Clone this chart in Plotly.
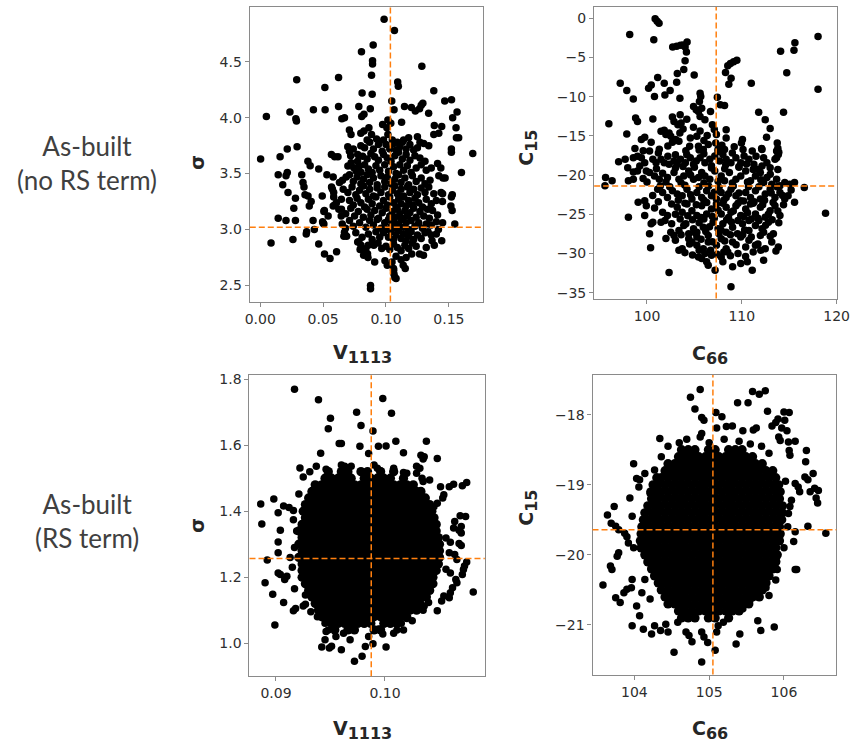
import plotly.graph_objects as go

# ---------------- data ----------------
# Panel A: As-built (no RS term): V1113 (x) vs sigma (y)
noRS_v1113_sigma = [
(0.0985,4.88),(0.1067,4.78),(0.0805,4.59),(0.0898,4.65),(0.0893,4.51),(0.0893,4.48),(0.0885,4.38),(0.1285,4.46),(0.029,4.34),(0.0514,4.27),
(0.0623,4.36),(0.1093,4.32),(0.1098,4.28),(0.081,4.22),(0.089,4.21),(0.138,4.24),(0.1046,4.15),(0.1467,4.15),(0.1521,4.16),
(0.0049,4.01),(0.0236,4.05),(0.0423,4.07),(0.0516,4.07),(0.0623,4.10),(0.0784,4.10),(0.0875,4.08),(0.1064,4.07),(0.1147,4.10),(0.1202,4.09),
(0.1233,4.06),(0.1267,4.08),(0.128,4.11),(0.1293,4.13),(0.1339,4.04),(0.1565,4.05),(0.153,4.0),(0.0283,3.99),(0.0288,3.97),(0.0649,3.99),
(0.067,4.0),(0.0807,4.01),(0.0825,4.03),(0.1015,3.98),(0.1038,3.95),(0.1007,3.91),(0.1124,3.96),(0.0973,3.94),(0.1384,3.93),(0.1443,3.92),
(0.1557,3.91),(0.1578,3.82),(0.169,3.68),
(0.0003,3.63),(0.0086,2.88),(0.0143,3.49),(0.0158,3.65),(0.0179,3.40),(0.0205,3.48),(0.0215,3.51),(0.0215,3.72),(0.0221,3.33),(0.0143,3.10),
(0.0205,3.08),(0.028,3.08),(0.026,2.91),(0.0293,3.74),(0.028,3.28),(0.0267,3.19),(0.033,3.49),(0.034,3.42),(0.0348,3.38),(0.0356,3.31),
(0.038,3.30),(0.0369,2.98),(0.0366,2.96),(0.0379,3.61),(0.0397,3.57),(0.0405,3.25),(0.039,3.21),(0.042,3.08),(0.043,3.0),(0.0465,2.87),
(0.0465,3.54),(0.0506,3.16),(0.0496,3.07),(0.0506,3.05),(0.0493,3.30),(0.0511,2.78),(0.0555,2.74),(0.053,3.49),(0.058,3.47),(0.0566,3.67),
(0.0592,3.65),(0.0618,3.65),(0.0574,3.36),(0.0584,3.33),(0.0607,2.80),(0.0592,3.22),(0.0584,3.29),(0.063,3.42),(0.0654,3.44),(0.0683,3.47),
(0.0646,3.18),(0.0644,3.12),(0.0665,2.94),(0.0652,3.05),(0.0678,3.01),(0.0709,3.70),(0.0719,3.66),(0.0696,3.74),
(0.0709,3.89),(0.0722,3.85),(0.080,3.86),(0.0825,3.88),(0.0864,3.91),(0.0885,3.85),(0.085,3.80),(0.0925,3.81),(0.098,3.80),(0.1015,3.85),
(0.105,3.80),(0.109,3.78),(0.114,3.80),(0.118,3.82),(0.125,3.83),(0.138,3.85),(0.142,3.86),(0.156,3.82),
(0.074,3.72),(0.080,3.75),(0.083,3.73),(0.087,3.78),(0.090,3.72),(0.094,3.76),(0.097,3.70),(0.100,3.76),(0.103,3.72),(0.106,3.77),
(0.108,3.71),(0.111,3.74),(0.113,3.78),(0.116,3.72),(0.119,3.76),(0.122,3.71),(0.125,3.73),(0.127,3.78),(0.130,3.77),(0.134,3.75),
(0.152,3.72),(0.152,3.69),
(0.0774,3.61),(0.0814,3.656),(0.0775,3.671),(0.085,3.63),(0.088,3.68),(0.091,3.65),(0.094,3.62),(0.098,3.67),(0.101,3.64),(0.104,3.61),
(0.107,3.66),(0.110,3.69),(0.113,3.63),(0.116,3.67),(0.119,3.62),(0.123,3.66),(0.127,3.64),(0.131,3.61),(0.141,3.59),
(0.0697,3.568),(0.0723,3.597),(0.0744,3.553),(0.0762,3.523),(0.0788,3.568),(0.0801,3.512),(0.083,3.58),(0.086,3.54),(0.089,3.51),(0.092,3.57),
(0.095,3.53),(0.099,3.58),(0.102,3.52),(0.106,3.56),(0.108,3.50),(0.111,3.58),(0.114,3.53),(0.117,3.57),(0.120,3.51),(0.124,3.55),
(0.128,3.58),(0.132,3.53),(0.136,3.55),(0.1436,3.55),(0.160,3.51),
(0.071,3.49),(0.074,3.43),(0.077,3.47),(0.080,3.41),(0.082,3.45),(0.085,3.49),(0.087,3.42),(0.090,3.46),(0.093,3.40),(0.096,3.48),
(0.099,3.43),(0.101,3.47),(0.104,3.41),(0.107,3.45),(0.110,3.49),(0.112,3.42),(0.115,3.46),(0.118,3.40),(0.121,3.48),(0.124,3.43),
(0.128,3.46),(0.131,3.41),(0.135,3.44),(0.142,3.48),(0.1453,3.46),(0.147,3.46),
(0.0567,3.38),(0.066,3.36),(0.0697,3.33),(0.073,3.38),(0.076,3.31),(0.079,3.35),(0.082,3.39),(0.084,3.32),(0.087,3.36),(0.090,3.30),
(0.093,3.37),(0.096,3.33),(0.099,3.38),(0.102,3.31),(0.105,3.35),(0.107,3.39),(0.109,3.32),(0.112,3.36),(0.114,3.30),(0.117,3.38),
(0.119,3.33),(0.122,3.36),(0.125,3.31),(0.128,3.37),(0.131,3.33),(0.134,3.38),(0.138,3.32),(0.1438,3.33),(0.145,3.32),(0.1527,3.31),
(0.0645,3.27),(0.071,3.26),(0.0606,3.24),(0.058,3.21),(0.074,3.22),(0.077,3.28),(0.080,3.24),(0.083,3.20),(0.086,3.27),(0.089,3.23),
(0.092,3.29),(0.095,3.21),(0.098,3.26),(0.101,3.22),(0.103,3.29),(0.106,3.24),(0.108,3.20),(0.110,3.27),(0.112,3.23),(0.114,3.29),
(0.116,3.21),(0.118,3.26),(0.121,3.22),(0.123,3.28),(0.126,3.24),(0.129,3.20),(0.132,3.27),(0.136,3.23),(0.140,3.26),(0.1449,3.25),
(0.152,3.29),(0.1516,3.21),
(0.0625,3.18),(0.054,3.12),(0.051,3.17),(0.068,3.14),(0.072,3.19),(0.075,3.12),(0.078,3.16),(0.082,3.11),(0.085,3.18),(0.088,3.13),
(0.091,3.17),(0.094,3.10),(0.097,3.15),(0.100,3.19),(0.103,3.12),(0.105,3.16),(0.107,3.11),(0.109,3.18),(0.111,3.14),(0.113,3.10),
(0.115,3.17),(0.117,3.12),(0.119,3.15),(0.122,3.19),(0.124,3.11),(0.127,3.16),(0.130,3.12),(0.133,3.18),(0.137,3.17),(0.1345,3.10),
(0.141,3.13),(0.1526,3.17),
(0.050,3.056),(0.071,3.08),(0.074,3.03),(0.079,3.06),(0.084,3.02),(0.087,3.08),(0.090,3.04),(0.093,3.09),(0.096,3.01),(0.099,3.06),
(0.1002,3.0),(0.102,3.09),(0.104,3.03),(0.106,3.07),(0.108,3.01),(0.110,3.05),(0.112,3.09),(0.114,3.02),(0.116,3.06),(0.118,3.00),
(0.120,3.08),(0.123,3.03),(0.126,3.06),(0.129,3.01),(0.132,3.05),(0.136,3.04),(0.140,3.07),(0.1417,3.0),(0.145,3.06),(0.1547,3.05),
(0.067,2.976),(0.0687,2.94),(0.0775,2.887),(0.076,2.97),(0.081,2.93),(0.086,2.96),(0.089,2.91),(0.092,2.98),(0.095,2.93),(0.098,2.97),
(0.102,2.93),(0.104,2.98),(0.106,2.91),(0.108,2.95),(0.110,2.99),(0.112,2.92),(0.114,2.96),(0.116,2.90),(0.118,2.94),(0.120,2.98),
(0.122,2.91),(0.125,2.95),(0.128,2.92),(0.131,2.97),(0.1334,2.98),(0.136,2.95),(0.140,2.96),(0.1366,2.90),(0.1443,2.90),
(0.0801,2.858),(0.0784,2.89),(0.0827,2.80),(0.084,2.828),(0.0859,2.86),(0.0903,2.86),(0.0937,2.88),(0.0966,2.83),(0.100,2.85),(0.103,2.82),
(0.106,2.87),(0.109,2.84),(0.112,2.81),(0.115,2.86),(0.118,2.83),(0.121,2.88),(0.124,2.85),(0.132,2.84),(0.1384,2.86),(0.0794,2.82),
(0.0822,2.769),(0.0853,2.784),(0.0857,2.75),(0.091,2.71),(0.0992,2.72),(0.1048,2.71),(0.108,2.76),(0.112,2.73),(0.116,2.75),(0.1205,2.78),
(0.1267,2.78),(0.1298,2.77),
(0.101,2.68),(0.106,2.65),(0.1061,2.636),(0.1064,2.60),(0.107,2.57),(0.108,2.562),(0.1137,2.68),(0.1153,2.65),(0.0877,2.50),(0.0877,2.47),
]

# Panel B: As-built (no RS term): C66 (x) vs C15 (y)
noRS_c66_c15 = [
(100.86,-0.08),(101.07,-0.38),(101.27,-0.63),(98.18,-2.07),(100.72,-2.74),(118.04,-2.32),(102.71,-3.67),(103.13,-3.58),(103.54,-3.46),
(103.81,-3.41),(104.23,-3.04),(104.02,-3.67),(104.16,-4.30),(115.6,-3.12),(115.5,-4.09),(114.09,-4.22),
(104.02,-5.44),(103.88,-6.53),(103.2,-7.04),(103.13,-8.18),(104.98,-7.25),(109.48,-5.35),(109.14,-5.57),(108.8,-5.78),(108.52,-6.07),
(108.28,-6.91),(108.87,-7.67),(108.63,-8.43),(111.0,-8.31),(114.74,-6.96),(118.04,-9.06),(97.18,-8.31),(97.87,-9.23),(98.56,-10.29),
(100.17,-8.94),(100.45,-8.52),(101.13,-7.55),(101.82,-8.31),(100.79,-9.99),(101.89,-9.78),(102.44,-9.23),(103.47,-10.2),
(107.42,-10.08),(107.73,-11.05),(108.18,-11.13),(105.6,-9.57),(105.67,-9.99),(105.53,-10.63),(104.91,-11.26),(105.19,-11.68),(105.43,-11.89),
(105.77,-11.47),(105.6,-12.52),(106.11,-12.95),(106.7,-11.89),(111.78,-11.98),(112.47,-12.95),(112.99,-14.08),(112.61,-15.18),(113.74,-15.9),
(112.09,-16.61),(114.4,-11.98),
(95.98,-13.45),(98.8,-12.74),(99.0,-13.16),(100.62,-12.86),(97.87,-14.76),(99.41,-15.48),(99.76,-15.18),(98.73,-16.61),(100.44,-15.81),
(100.27,-16.95),(101.48,-14.42),(101.82,-14.29),(101.99,-14.84),(102.33,-14.63),(102.51,-15.05),
(102.68,-12.61),(102.85,-13.16),(103.26,-13.58),(103.6,-13.37),(103.81,-14.13),(103.47,-14.63),(103.02,-15.48),(103.37,-15.69),(102.68,-15.81),
(104.57,-15.27),(104.5,-16.32),(105.26,-15.06),(105.43,-16.32),(106.35,-14.97),(106.46,-16.11),(105.94,-16.74),(107.32,-14.84),(107.25,-15.9),
(107.49,-16.74),(108.35,-14.21),(108.35,-15.27),(108.18,-16.74),(110.07,-15.48),(109.96,-15.9),(110.13,-16.74),(111.1,-16.95),(112.13,-16.74),
(113.67,-16.95),(103.5,-12.3),(104.2,-12.9),(106.9,-13.6),(107.1,-14.2),(104.9,-13.9),(105.6,-14.4),(106.0,-15.6),(107.9,-16.2),(109.2,-16.4),
(104.1,-16.9),(102.2,-16.3),(101.3,-16.7),(99.6,-16.9),(113.8,-16.6),(113.9,-17.1),
(97.01,-18.3),(97.70,-18.0),(98.56,-17.79),(97.97,-19.06),(98.56,-19.61),(99.24,-18.85),(99.41,-17.79),(99.76,-18.42),(99.93,-19.48),(100.62,-18.0),
(100.96,-18.42),(101.48,-18.0),(101.82,-18.42),(102.33,-18.64),(102.85,-18.21),(103.19,-18.64),(103.54,-18.0),(104.05,-18.42),(104.57,-17.79),
(104.91,-18.64),(105.6,-17.79),(106.11,-18.42),(106.63,-18.0),(107.15,-17.58),(107.66,-18.21),(108.0,-17.37),(108.35,-18.0),(108.86,-18.42),
(109.38,-17.79),(109.89,-18.42),(110.24,-17.58),(110.75,-18.0),(111.27,-18.64),(111.61,-19.27),(112.13,-18.85),(112.65,-18.42),(112.99,-19.06),
(113.5,-18.0),(113.85,-17.37),(113.67,-17.79),
(95.63,-20.32),(95.57,-21.38),(96.32,-20.74),(98.04,-20.74),(98.56,-20.53),(99.59,-20.45),(100.27,-19.69),(100.79,-20.11),(101.3,-20.53),
(101.65,-19.77),(102.16,-20.32),(102.85,-19.69),(103.37,-20.53),(103.88,-20.11),(104.4,-19.48),(104.91,-20.53),(105.43,-20.32),(105.77,-19.69),
(106.11,-20.11),(106.63,-20.53),(107.15,-19.48),(107.83,-20.11),(108.18,-20.74),(108.69,-19.69),(109.38,-20.53),(109.89,-20.11),(110.41,-19.48),
(110.92,-20.74),(111.44,-20.11),(111.96,-19.69),(112.3,-20.95),(112.65,-20.32),(113.16,-21.17),(113.67,-20.53),(114.02,-21.38),(114.53,-20.95),
(115.05,-21.17),(115.56,-20.95),(116.59,-21.59),
(101.13,-21.8),(101.65,-22.22),(102.16,-22.85),(102.68,-22.01),(103.19,-22.43),(103.71,-22.64),(104.22,-21.8),(104.74,-23.06),(105.26,-22.22),
(105.77,-22.85),(106.29,-22.01),(106.8,-22.64),(107.32,-23.06),(107.83,-22.22),(108.35,-22.85),(108.86,-21.8),(109.38,-22.64),(109.89,-23.27),
(110.41,-22.22),(110.92,-22.85),(111.44,-22.01),(111.96,-23.06),(112.47,-22.43),(112.99,-21.8),(113.5,-22.85),(114.02,-22.22),(114.53,-23.06),
(114.88,-22.64),(99.07,-23.48),(99.76,-23.27),
(98.04,-25.38),(99.76,-25.17),(99.93,-23.91),(101.65,-24.75),(102.16,-25.17),(103.19,-24.12),(103.71,-24.75),(104.22,-23.69),(104.74,-24.54),
(105.26,-25.17),(105.77,-23.91),(106.29,-24.96),(106.8,-24.33),(107.32,-23.69),(107.83,-24.96),(108.35,-24.12),(108.86,-24.75),(109.38,-23.91),
(109.89,-25.17),(110.41,-24.33),(110.92,-23.69),(111.44,-24.96),(111.96,-24.12),(112.47,-25.38),(112.99,-24.54),(113.5,-23.91),(114.02,-25.17),
(115.56,-23.48),(118.83,-24.88),
(100.27,-27.49),(100.44,-26.22),(100.62,-26.01),(101.48,-26.01),(102.51,-27.28),(102.85,-27.7),(103.37,-27.07),(103.88,-26.44),(104.4,-27.49),
(104.91,-26.86),(105.26,-27.28),(105.94,-26.65),(106.46,-27.7),(106.97,-26.01),(107.49,-26.86),(108.0,-26.22),(108.35,-27.28),(109.03,-26.65),
(109.55,-27.49),(110.07,-26.22),(110.75,-27.07),(111.44,-26.44),(112.13,-26.86),(112.81,-26.01),(113.33,-27.49),(110.75,-25.8),
(100.38,-29.26),(103.37,-29.6),(103.71,-29.39),(104.4,-28.12),(104.74,-28.54),(105.26,-27.91),(105.26,-28.96),(105.94,-29.39),(106.46,-28.54),
(107.32,-28.96),(107.83,-28.12),(108.35,-29.39),(108.52,-29.81),(109.03,-28.54),(109.89,-27.91),(110.41,-29.18),(110.75,-28.33),(111.44,-28.96),
(111.96,-27.7),(112.47,-29.39),(113.16,-28.54),(113.85,-29.18),
(105.43,-30.44),(105.77,-30.65),(106.29,-31.07),(106.46,-31.49),(106.8,-30.23),(107.18,-32.13),(107.83,-30.44),(108.0,-31.07),(109.03,-31.7),
(109.89,-31.28),(110.58,-31.07),(111.1,-32.13),(112.3,-30.86),(102.33,-32.42),(108.86,-34.23),
(101.0,-19.2),(102.0,-20.9),(103.0,-19.1),(103.6,-21.0),(104.6,-20.0),(105.0,-19.0),(106.0,-21.0),(106.8,-19.1),(107.5,-20.8),(108.2,-19.2),
(109.0,-21.0),(109.7,-19.0),(110.6,-20.9),(111.2,-19.3),(112.0,-20.6),(113.0,-19.9),(113.8,-19.3),(100.0,-20.9),(99.0,-19.5),
(100.6,-22.6),(101.4,-21.4),(102.4,-21.5),(103.3,-23.2),(104.0,-21.3),(104.6,-22.5),(105.5,-21.5),(106.0,-23.2),(106.5,-21.4),(107.1,-22.2),
(107.6,-21.6),(108.1,-23.2),(108.6,-22.4),(109.1,-21.4),(109.7,-22.3),(110.2,-23.3),(110.7,-21.5),(111.3,-23.4),(111.8,-21.5),(112.4,-23.2),
(113.1,-22.3),(113.7,-21.5),(114.3,-22.6),(115.2,-21.9),
(100.8,-24.2),(101.2,-23.4),(102.6,-23.7),(103.0,-25.0),(104.0,-23.6),(104.3,-25.2),(105.2,-23.8),(105.7,-25.4),(106.3,-23.5),(106.9,-25.3),
(107.5,-24.5),(108.0,-23.6),(108.6,-25.4),(109.1,-24.6),(109.6,-23.6),(110.2,-25.3),(110.6,-24.8),(111.2,-23.6),(111.7,-25.5),(112.2,-23.8),
(112.8,-25.0),(113.3,-23.5),(113.8,-24.6),(114.4,-23.8),
(101.9,-25.8),(102.6,-26.2),(103.5,-25.6),(104.1,-26.2),(104.8,-25.7),(105.5,-26.1),(106.0,-25.6),(106.6,-26.6),(107.1,-25.5),(107.8,-27.0),
(108.4,-25.7),(108.9,-26.0),(109.6,-25.8),(110.3,-27.0),(111.0,-25.6),(111.8,-25.8),(112.5,-26.4),(113.2,-25.7),(113.9,-26.1),
(102.0,-28.1),(103.0,-28.3),(103.6,-27.6),(104.5,-28.8),(105.1,-27.4),(105.7,-28.2),(106.2,-27.2),(106.9,-28.5),(107.6,-27.5),(108.2,-28.4),
(108.8,-27.6),(109.4,-28.9),(110.1,-27.6),(111.0,-27.9),(111.7,-28.8),(112.3,-27.3),(113.0,-27.8),
(104.0,-29.9),(104.8,-30.2),(105.5,-29.6),(106.1,-30.0),(106.7,-29.6),(107.4,-30.1),(108.1,-29.8),(108.8,-30.3),(109.6,-30.0),(110.4,-30.4),
(111.2,-29.8),(112.0,-29.6),(113.6,-29.7),
(99.0,-17.6),(101.2,-17.2),(102.2,-17.6),(103.0,-17.4),(103.8,-18.9),(104.2,-17.4),(105.2,-18.2),(106.0,-17.3),(106.8,-18.8),(107.5,-17.0),
(108.3,-18.7),(109.0,-17.2),(109.7,-18.9),(110.5,-18.6),(111.5,-17.6),(112.3,-17.8),(105.5,-16.8),
]

# Panel C: As-built (RS term): V1113 (x) vs sigma (y) - scattered outer points
RS_v1113_sigma = [
(0.0917,1.77),(0.0939,1.738),(0.0974,1.70),(0.0998,1.742),(0.1006,1.697),(0.0950,1.682),(0.0948,1.65),(0.0978,1.66),(0.0989,1.643),(0.0994,1.597),
(0.1001,1.598),(0.101,1.612),(0.1017,1.577),(0.1038,1.612),(0.0958,1.605),(0.096,1.605),(0.0977,1.597),(0.0941,1.576),(0.0985,1.575),(0.1033,1.57),
(0.1036,1.565),(0.1035,1.558),(0.1048,1.56),(0.0922,1.531),(0.0925,1.504),(0.0931,1.52),(0.0937,1.536),(0.0946,1.527),(0.096,1.54),(0.0963,1.536),
(0.0969,1.536),(0.099,1.54),(0.0993,1.53),(0.0996,1.522),(0.1008,1.53),(0.1017,1.517),(0.102,1.515),(0.1029,1.536),(0.1032,1.53),(0.1029,1.515),
(0.1034,1.50),(0.1035,1.49),(0.1041,1.495),(0.1051,1.474),(0.1059,1.474),(0.1063,1.482),(0.1075,1.487),(0.1071,1.477),
(0.0886,1.422),(0.0887,1.361),(0.0898,1.437),(0.0902,1.395),(0.0907,1.416),(0.0912,1.411),(0.0902,1.307),(0.0902,1.274),(0.0892,1.252),(0.0904,1.342),
(0.089,1.183),(0.0897,1.148),(0.0902,1.213),(0.0904,1.208),(0.0908,1.193),(0.091,1.203),(0.0907,1.123),(0.0917,1.165),(0.0916,1.098),(0.0918,1.105),
(0.0899,1.055),(0.0925,1.113),(0.0927,1.118),(0.0927,1.146),(0.0916,1.402),(0.0916,1.374),(0.0921,1.452),(0.0919,1.34),(0.0917,1.29),(0.0913,1.26),
(0.0915,1.23),
(0.0942,0.988),(0.0949,0.985),(0.0951,0.991),(0.096,0.98),(0.0972,0.945),(0.0979,0.96),(0.0982,0.99),(0.0989,0.998),(0.1001,0.988),(0.0998,1.028),
(0.0994,1.043),(0.1008,1.03),(0.1011,1.04),(0.1017,1.04),(0.1025,1.068),(0.1035,1.10),(0.1036,1.113),(0.104,1.123),(0.1048,1.098),(0.1052,1.128),
(0.1054,1.143),(0.1059,1.138),(0.106,1.153),(0.1062,1.168),(0.1066,1.183),(0.1065,1.193),(0.1071,1.208),(0.1072,1.223),(0.1073,1.234),(0.1075,1.246),
(0.1081,1.155),(0.107,1.296),(0.1068,1.302),(0.107,1.334),(0.1068,1.342),(0.107,1.354),(0.1069,1.386),(0.1074,1.384),(0.1063,1.349),(0.1064,1.369),
(0.1056,1.319),(0.106,1.306),(0.1059,1.274),(0.1064,1.269),(0.1066,1.254),(0.1056,1.224),(0.106,1.213),(0.1053,1.44),(0.1054,1.45),(0.1048,1.424),
(0.1045,1.414),(0.0948,1.04),(0.0955,1.02),(0.0962,1.03),(0.0968,1.01),(0.0985,1.02),(0.0945,1.06),(0.1015,1.06),(0.1020,1.075),(0.0938,1.08),
(0.0932,1.095),(0.0945,1.01),(0.0946,1.035),
]
# Panel C dense core, read row by row: (sigma, [V1113 values])
RS_v1113_sigma_core = [
(1.52,[0.0948,0.0960,0.0966,0.0978,0.0984,0.0996,0.1008]),
(1.50,[0.0945,0.0951,0.0957,0.0963,0.0969,0.0981,0.0987,0.0993,0.0999,0.1005,0.1017]),
(1.48,[0.0936,0.0942,0.0948,0.0954,0.0960,0.0966,0.0972,0.0978,0.0984,0.0990,0.0996,0.1002,0.1008,0.1014,0.1020,0.1026]),
(1.46,[0.0933,0.0939,0.0945,0.0951,0.0957,0.0963,0.0969,0.0975,0.0981,0.0987,0.0993,0.0999,0.1005,0.1011,0.1017,0.1023,0.1029,0.1033]),
(1.44,[0.0930,0.0936,0.0942,0.0948,0.0954,0.0960,0.0966,0.0972,0.0978,0.0984,0.0990,0.0996,0.1002,0.1008,0.1014,0.1020,0.1026,0.1032,0.1037]),
(1.42,[0.0927,0.0933,0.0939,0.0945,0.0951,0.0957,0.0963,0.0969,0.0975,0.0981,0.0987,0.0993,0.0999,0.1005,0.1011,0.1017,0.1023,0.1029,0.1035,0.1041]),
(1.40,[0.0925,0.0930,0.0936,0.0942,0.0948,0.0954,0.0960,0.0966,0.0972,0.0978,0.0984,0.0990,0.0996,0.1002,0.1008,0.1014,0.1020,0.1026,0.1032,0.1038,0.1043]),
(1.38,[0.0927,0.0933,0.0939,0.0945,0.0951,0.0957,0.0963,0.0969,0.0975,0.0981,0.0987,0.0993,0.0999,0.1005,0.1011,0.1017,0.1023,0.1029,0.1035,0.1041,0.1045]),
(1.36,[0.0924,0.0930,0.0936,0.0942,0.0948,0.0954,0.0960,0.0966,0.0972,0.0978,0.0984,0.0990,0.0996,0.1002,0.1008,0.1014,0.1020,0.1026,0.1032,0.1038,0.1044,0.1047]),
(1.34,[0.0921,0.0927,0.0933,0.0939,0.0945,0.0951,0.0957,0.0963,0.0969,0.0975,0.0981,0.0987,0.0993,0.0999,0.1005,0.1011,0.1017,0.1023,0.1029,0.1035,0.1041,0.1047]),
(1.32,[0.0924,0.0930,0.0936,0.0942,0.0948,0.0954,0.0960,0.0966,0.0972,0.0978,0.0984,0.0990,0.0996,0.1002,0.1008,0.1014,0.1020,0.1026,0.1032,0.1038,0.1044,0.1049]),
(1.30,[0.0921,0.0927,0.0933,0.0939,0.0945,0.0951,0.0957,0.0963,0.0969,0.0975,0.0981,0.0987,0.0993,0.0999,0.1005,0.1011,0.1017,0.1023,0.1029,0.1035,0.1041,0.1047,0.1050]),
(1.28,[0.0924,0.0930,0.0936,0.0942,0.0948,0.0954,0.0960,0.0966,0.0972,0.0978,0.0984,0.0990,0.0996,0.1002,0.1008,0.1014,0.1020,0.1026,0.1032,0.1038,0.1044,0.1050]),
(1.26,[0.0921,0.0927,0.0933,0.0939,0.0945,0.0951,0.0957,0.0963,0.0969,0.0975,0.0981,0.0987,0.0993,0.0999,0.1005,0.1011,0.1017,0.1023,0.1029,0.1035,0.1041,0.1047,0.1050]),
(1.24,[0.0924,0.0930,0.0936,0.0942,0.0948,0.0954,0.0960,0.0966,0.0972,0.0978,0.0984,0.0990,0.0996,0.1002,0.1008,0.1014,0.1020,0.1026,0.1032,0.1038,0.1044,0.1049]),
(1.22,[0.0924,0.0927,0.0933,0.0939,0.0945,0.0951,0.0957,0.0963,0.0969,0.0975,0.0981,0.0987,0.0993,0.0999,0.1005,0.1011,0.1017,0.1023,0.1029,0.1035,0.1041,0.1047]),
(1.20,[0.0924,0.0930,0.0936,0.0942,0.0948,0.0954,0.0960,0.0966,0.0972,0.0978,0.0984,0.0990,0.0996,0.1002,0.1008,0.1014,0.1020,0.1026,0.1032,0.1038,0.1044]),
(1.18,[0.0927,0.0933,0.0939,0.0945,0.0951,0.0957,0.0963,0.0969,0.0975,0.0981,0.0987,0.0993,0.0999,0.1005,0.1011,0.1017,0.1023,0.1029,0.1035,0.1041,0.1044]),
(1.16,[0.0930,0.0936,0.0942,0.0948,0.0954,0.0960,0.0966,0.0972,0.0978,0.0984,0.0990,0.0996,0.1002,0.1008,0.1014,0.1020,0.1026,0.1032,0.1038,0.1041]),
(1.14,[0.0933,0.0939,0.0945,0.0951,0.0957,0.0963,0.0969,0.0975,0.0981,0.0987,0.0993,0.0999,0.1005,0.1011,0.1017,0.1023,0.1029,0.1035,0.1038]),
(1.12,[0.0936,0.0942,0.0948,0.0954,0.0960,0.0966,0.0972,0.0978,0.0984,0.0990,0.0996,0.1002,0.1008,0.1014,0.1020,0.1026,0.1032]),
(1.10,[0.0939,0.0945,0.0951,0.0957,0.0963,0.0969,0.0975,0.0981,0.0987,0.0993,0.0999,0.1005,0.1011,0.1017,0.1023,0.1029]),
(1.08,[0.0942,0.0948,0.0954,0.0960,0.0966,0.0972,0.0978,0.0984,0.0990,0.0996,0.1002,0.1008,0.1014,0.1020]),
(1.06,[0.0951,0.0957,0.0963,0.0969,0.0975,0.0981,0.0987,0.0999,0.1005,0.1011]),
(1.04,[0.0954,0.0966,0.0972,0.0990,0.0996]),
]

# Panel D: As-built (RS term): C66 (x) vs C15 (y) - scattered outer points
RS_c66_c15 = [
(104.88,-17.64),(105.58,-17.67),(105.67,-17.71),(105.75,-17.66),(105.52,-17.83),(105.38,-17.83),(104.75,-17.75),(104.81,-17.92),(104.9,-18.04),
(104.93,-18.08),(104.9,-18.27),(104.88,-18.32),(105.09,-17.97),(105.17,-18.03),(105.10,-18.19),(105.23,-18.17),(105.31,-18.16),(105.45,-18.23),
(105.59,-18.22),(105.63,-18.19),(105.78,-17.95),(105.84,-18.16),(105.89,-18.11),(105.92,-18.06),(106.0,-17.96),(106.07,-17.97),(105.97,-18.19),
(106.04,-18.23),(106.01,-18.08),(105.93,-18.32),(105.95,-18.37),(106.06,-18.39),(106.15,-18.38),(106.07,-18.51),(106.08,-18.58),(106.30,-18.51),
(106.29,-18.67),(106.15,-18.98),(106.19,-19.03),(106.21,-19.10),(106.28,-18.89),(106.32,-18.93),(106.39,-18.84),(106.35,-19.10),(106.41,-19.05),
(106.46,-19.08),(106.43,-19.19),(106.45,-19.26),(106.32,-19.59),(106.56,-19.69),(106.17,-20.21),(106.13,-19.81),(106.15,-19.67),(106.06,-19.41),
(106.08,-19.31),(106.10,-19.22),(106.02,-18.95),(106.05,-19.6),(106.0,-19.9),
(104.34,-18.34),(104.27,-18.79),(104.36,-18.60),(104.14,-18.84),(104.21,-19.12),(103.99,-18.70),(104.03,-18.91),(104.07,-18.93),(104.06,-19.03),
(103.58,-20.43),(103.64,-19.43),(103.73,-19.31),(103.69,-19.55),(103.75,-19.59),(103.79,-19.64),(103.68,-20.16),(103.70,-20.21),(103.77,-20.02),
(103.79,-19.97),(103.75,-20.61),(103.81,-20.68),(103.86,-20.54),(103.90,-20.49),(103.87,-19.69),(103.90,-19.74),(103.92,-19.83),(103.94,-19.19),
(103.97,-19.45),(103.99,-19.90),(103.97,-20.35),(103.96,-20.47),(103.97,-21.01),(104.03,-20.73),(104.07,-20.87),(104.12,-21.06),(104.23,-21.13),
(104.27,-21.01),(104.35,-21.08),(104.42,-20.99),(104.45,-21.10),(104.53,-21.39),(104.10,-20.54),(104.14,-20.35),(104.21,-20.63),(104.58,-20.96),
(104.69,-21.10),(104.73,-21.15),(104.77,-21.24),(104.9,-21.10),(104.93,-21.17),(104.98,-21.25),(104.9,-21.53),(105.1,-21.10),(105.12,-21.01),
(105.08,-21.36),(105.19,-20.96),(105.36,-21.27),(105.41,-21.13),(105.30,-20.80),(105.36,-20.73),(105.45,-20.77),(105.54,-20.66),(105.57,-20.61),
(105.65,-20.94),(105.69,-21.08),(105.87,-21.03),(105.80,-20.58),(105.76,-20.47),(105.89,-20.36),(105.91,-20.21),(105.90,-20.09),(106.15,-20.21),
(104.45,-18.45),(104.6,-18.40),(104.70,-18.35),(105.0,-18.4),(105.2,-18.35),(105.4,-18.38),(105.55,-18.42),(105.7,-18.45),(105.8,-18.55),
]
# Panel D dense core, read row by row: (C15, [C66 values])
RS_c66_c15_core = [
(-18.5,[104.63,104.72,104.81,104.99,105.08,105.26,105.35,105.44]),
(-18.6,[104.59,104.68,104.77,104.86,104.95,105.04,105.13,105.22,105.31,105.40,105.49,105.58]),
(-18.7,[104.45,104.54,104.63,104.72,104.81,104.90,104.99,105.08,105.17,105.26,105.35,105.44,105.53,105.62,105.71]),
(-18.8,[104.41,104.50,104.59,104.68,104.77,104.86,104.95,105.04,105.13,105.22,105.31,105.40,105.49,105.58,105.67,105.76,105.85]),
(-18.9,[104.30,104.36,104.45,104.54,104.63,104.72,104.81,104.90,104.99,105.08,105.17,105.26,105.35,105.44,105.53,105.62,105.71,105.80,105.89]),
(-19.0,[104.25,104.32,104.41,104.50,104.59,104.68,104.77,104.86,104.95,105.04,105.13,105.22,105.31,105.40,105.49,105.58,105.67,105.76,105.85,105.93]),
(-19.1,[104.22,104.27,104.36,104.45,104.54,104.63,104.72,104.81,104.90,104.99,105.08,105.17,105.26,105.35,105.44,105.53,105.62,105.71,105.80,105.89,105.95]),
(-19.2,[104.23,104.32,104.41,104.50,104.59,104.68,104.77,104.86,104.95,105.04,105.13,105.22,105.31,105.40,105.49,105.58,105.67,105.76,105.85,105.94]),
(-19.3,[104.18,104.27,104.36,104.45,104.54,104.63,104.72,104.81,104.90,104.99,105.08,105.17,105.26,105.35,105.44,105.53,105.62,105.71,105.80,105.89,105.98]),
(-19.4,[104.14,104.23,104.32,104.41,104.50,104.59,104.68,104.77,104.86,104.95,105.04,105.13,105.22,105.31,105.40,105.49,105.58,105.67,105.76,105.85,105.94,105.98]),
(-19.5,[104.12,104.18,104.27,104.36,104.45,104.54,104.63,104.72,104.81,104.90,104.99,105.08,105.17,105.26,105.35,105.44,105.53,105.62,105.71,105.80,105.89,105.97]),
(-19.6,[104.10,104.14,104.23,104.32,104.41,104.50,104.59,104.68,104.77,104.86,104.95,105.04,105.13,105.22,105.31,105.40,105.49,105.58,105.67,105.76,105.85,105.94]),
(-19.7,[104.09,104.18,104.27,104.36,104.45,104.54,104.63,104.72,104.81,104.90,104.99,105.08,105.17,105.26,105.35,105.44,105.53,105.62,105.71,105.80,105.89,105.95]),
(-19.8,[104.08,104.14,104.23,104.32,104.41,104.50,104.59,104.68,104.77,104.86,104.95,105.04,105.13,105.22,105.31,105.40,105.49,105.58,105.67,105.76,105.85,105.94]),
(-19.9,[104.09,104.18,104.27,104.36,104.45,104.54,104.63,104.72,104.81,104.90,104.99,105.08,105.17,105.26,105.35,105.44,105.53,105.62,105.71,105.80,105.89]),
(-20.0,[104.14,104.23,104.32,104.41,104.50,104.59,104.68,104.77,104.86,104.95,105.04,105.13,105.22,105.31,105.40,105.49,105.58,105.67,105.76,105.85,105.91]),
(-20.1,[104.18,104.27,104.36,104.45,104.54,104.63,104.72,104.81,104.90,104.99,105.08,105.17,105.26,105.35,105.44,105.53,105.62,105.71,105.80,105.89]),
(-20.2,[104.23,104.32,104.41,104.50,104.59,104.68,104.77,104.86,104.95,105.04,105.13,105.22,105.31,105.40,105.49,105.58,105.67,105.76,105.85]),
(-20.3,[104.27,104.36,104.45,104.54,104.63,104.72,104.81,104.90,104.99,105.08,105.17,105.26,105.35,105.44,105.53,105.62,105.71,105.80]),
(-20.4,[104.32,104.41,104.50,104.59,104.68,104.77,104.86,104.95,105.04,105.13,105.22,105.31,105.40,105.49,105.58,105.67,105.76]),
(-20.5,[104.36,104.45,104.54,104.63,104.72,104.81,104.90,104.99,105.08,105.17,105.26,105.35,105.44,105.53,105.62,105.71]),
(-20.6,[104.41,104.50,104.59,104.68,104.77,104.86,104.95,105.04,105.13,105.22,105.31,105.40,105.49,105.58,105.67]),
(-20.7,[104.45,104.54,104.63,104.72,104.81,104.90,104.99,105.08,105.17,105.26,105.35,105.44,105.53]),
(-20.8,[104.59,104.68,104.77,104.86,104.95,105.04,105.13,105.22,105.31,105.40]),
(-20.9,[104.63,104.72,104.81,104.99,105.08,105.26]),
]

# Reference (dashed orange) lines per panel: A, B, C, D
ref_x = [0.1035, 107.3, 0.09874, 105.05]
ref_y = [3.02, -21.4, 1.2565, -19.64]

# Axis ranges and tick labels
x_ranges = [[-0.0083, 0.177], [94.43, 120.07], [0.08757, 0.10916], [103.44, 106.70]]
y_ranges = [[2.355, 4.99], [-35.76, 1.43], [0.8996, 1.812], [-21.708, -17.434]]
x_tickvals = [[0, 0.05, 0.10, 0.15], [100, 110, 120], [0.09, 0.10], [104, 105, 106]]
x_ticktext = [["0.00", "0.05", "0.10", "0.15"], ["100", "110", "120"], ["0.09", "0.10"], ["104", "105", "106"]]
y_tickvals = [[2.5, 3.0, 3.5, 4.0, 4.5], [0, -5, -10, -15, -20, -25, -30, -35], [1.0, 1.2, 1.4, 1.6, 1.8], [-18, -19, -20, -21]]
y_ticktext = [["2.5", "3.0", "3.5", "4.0", "4.5"],
              ["0", "\u22125", "\u221210", "\u221215", "\u221220", "\u221225", "\u221230", "\u221235"],
              ["1.0", "1.2", "1.4", "1.6", "1.8"],
              ["\u221218", "\u221219", "\u221220", "\u221221"]]
row_labels = ["As-built<br>(no RS term)", "As-built<br>(RS term)"]
SUB = '<sub><span style="font-size:16px">%s</span></sub>'
x_titles = ["<b>V" + SUB % "1113" + "</b>", "<b>C" + SUB % "66" + "</b>",
            "<b>V" + SUB % "1113" + "</b>", "<b>C" + SUB % "66" + "</b>"]
y_titles = ["<b>\u03c3</b>", "<b>C" + SUB % "15" + "</b>", "<b>\u03c3</b>", "<b>C" + SUB % "15" + "</b>"]

# ---------------- figure ----------------
def split(pts):
    return [p[0] for p in pts], [p[1] for p in pts]

def split_rows(rows):
    xs, ys = [], []
    for yv, row in rows:
        xs += row
        ys += [yv] * len(row)
    return xs, ys

scatter_sets = [split(noRS_v1113_sigma), split(noRS_c66_c15), split(RS_v1113_sigma), split(RS_c66_c15)]
core_sets = {2: split_rows(RS_v1113_sigma_core), 3: split_rows(RS_c66_c15_core)}

W, H = 864, 750
# axes boxes in pixels (left, right, top, bottom)
boxes = [(250, 488, 3, 300), (601.7, 850, 3, 297), (249.7, 490, 374.3, 677.7), (600, 849, 374, 676)]

fig = go.Figure()
for i in range(4):
    sfx = "" if i == 0 else str(i + 1)
    if i in core_sets:
        cx, cy = core_sets[i]
        fig.add_trace(go.Scatter(x=cx, y=cy, mode="markers",
                                 marker=dict(size=9.3, color="black", line=dict(width=0)),
                                 xaxis="x" + sfx, yaxis="y" + sfx, showlegend=False, hoverinfo="skip"))
    xs, ys = scatter_sets[i]
    fig.add_trace(go.Scatter(x=xs, y=ys, mode="markers",
                             marker=dict(size=7.5, color="black", line=dict(width=0)),
                             xaxis="x" + sfx, yaxis="y" + sfx, showlegend=False, hoverinfo="skip"))

axis_common = dict(showgrid=False, zeroline=False, showline=True, linecolor="#8a8a8a", linewidth=1.3,
                   mirror=True, ticks="outside", ticklen=4, tickcolor="#8a8a8a", tickwidth=1,
                   tickfont=dict(family="DejaVu Sans", size=14, color="#2e2e2e"))
layout = dict(width=W, height=H, margin=dict(l=0, r=0, t=0, b=0),
              paper_bgcolor="white", plot_bgcolor="white", showlegend=False)
shapes = []
for i, (l, r, t, b) in enumerate(boxes):
    sfx = "" if i == 0 else str(i + 1)
    layout["xaxis" + sfx] = dict(axis_common, domain=[l / W, r / W], range=x_ranges[i],
                                 tickvals=x_tickvals[i], ticktext=x_ticktext[i],
                                 anchor="y" + sfx)
    layout["yaxis" + sfx] = dict(axis_common, domain=[1 - b / H, 1 - t / H], range=y_ranges[i],
                                 tickvals=y_tickvals[i], ticktext=y_ticktext[i],
                                 anchor="x" + sfx)
    dash = dict(color="#ff7f0e", width=1.5, dash="6px,3px")
    shapes.append(dict(type="line", xref="x" + sfx, yref="y" + sfx + " domain",
                       x0=ref_x[i], x1=ref_x[i], y0=0, y1=1, line=dash, layer="above"))
    shapes.append(dict(type="line", xref="x" + sfx + " domain", yref="y" + sfx,
                       x0=0, x1=1, y0=ref_y[i], y1=ref_y[i], line=dash, layer="above"))
layout["shapes"] = shapes

ann = []
title_font = dict(family="DejaVu Sans", size=19, color="#262626")
xt_pos = [(365, 353), (720, 354), (365, 732), (720, 732)]
yt_pos = [(196, 159), (534, 145), (196, 525), (534, 508)]
for i in range(4):
    ann.append(dict(text=x_titles[i], x=xt_pos[i][0] / W, y=1 - xt_pos[i][1] / H, xref="paper", yref="paper",
                    showarrow=False, xanchor="center", yanchor="middle", font=title_font))
    ann.append(dict(text=y_titles[i], x=yt_pos[i][0] / W, y=1 - yt_pos[i][1] / H, xref="paper", yref="paper",
                    showarrow=False, xanchor="center", yanchor="middle", textangle=-90, font=title_font))
row_pos = [(84, 160), (84, 521)]
for i in range(2):
    ann.append(dict(text=row_labels[i], x=row_pos[i][0] / W, y=1 - row_pos[i][1] / H, xref="paper", yref="paper",
                    showarrow=False, xanchor="center", yanchor="middle", align="center",
                    font=dict(family="Lato", size=26, color="#404040")))
layout["annotations"] = ann

fig.update_layout(**layout)
fig.write_html("out.html")
